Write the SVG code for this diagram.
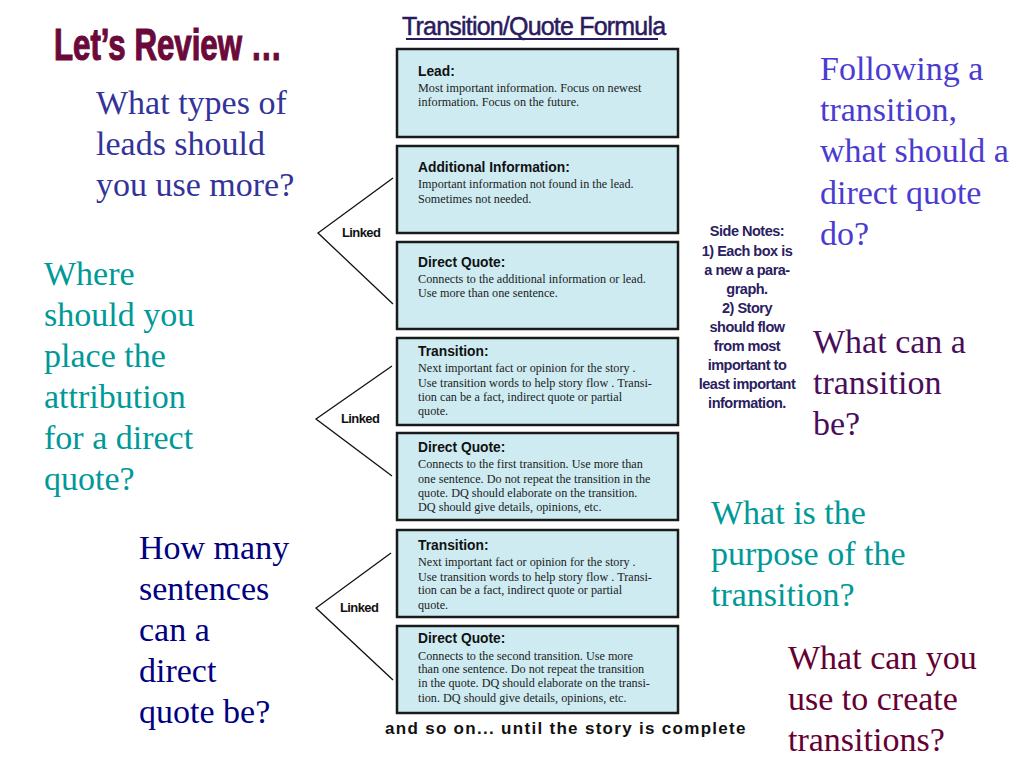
<svg xmlns="http://www.w3.org/2000/svg" width="1024" height="768" viewBox="0 0 1024 768">
<defs>
<style>
.q{font-family:"Liberation Serif","Times New Roman",serif;font-size:34px}
.box{fill:#cdebf1;stroke:#1a1a1a;stroke-width:2.5}
.h{font-family:"Liberation Sans",Arial,sans-serif;font-size:13.8px;font-weight:bold;fill:#111}
.b{font-family:"Liberation Serif","Times New Roman",serif;font-size:12.2px;fill:#222}
.lk{font-family:"Liberation Sans",Arial,sans-serif;font-size:13px;font-weight:bold;fill:#111;letter-spacing:-0.6px}
.con{fill:none;stroke:#111;stroke-width:1.3}
.sn{font-family:"Liberation Sans",Arial,sans-serif;font-size:14.5px;font-weight:bold;fill:#2a2060;letter-spacing:-0.5px;text-anchor:middle}
</style>
</defs>
<rect width="1024" height="768" fill="#ffffff"/>

<g id="title-left">
<text x="54" y="60" transform="translate(54 0) scale(0.71 1) translate(-54 0)" style="font-family:'Liberation Sans',Arial,sans-serif;font-weight:bold;font-size:44px;fill:#6b0a3a;stroke:#6b0a3a;stroke-width:1.2">Let’s Review …</text>
</g>

<g id="title-formula">
<text x="402" y="35" style="font-family:'Liberation Sans',Arial,sans-serif;font-size:25px;fill:#2a1a5e;letter-spacing:-0.8px;stroke:#2a1a5e;stroke-width:0.5">Transition/Quote Formula</text>
<line x1="406" y1="39" x2="658" y2="39" stroke="#2a1a5e" stroke-width="2"/>
</g>

<g id="q1" class="q" fill="#333399">
<text x="96" y="114">What types of</text>
<text x="96" y="155">leads should</text>
<text x="96" y="196">you use more?</text>
</g>
<g id="q2" class="q" fill="#009999">
<text x="44" y="285">Where</text>
<text x="44" y="326">should you</text>
<text x="44" y="367">place the</text>
<text x="44" y="408">attribution</text>
<text x="44" y="449">for a direct</text>
<text x="44" y="490">quote?</text>
</g>
<g id="q3" class="q" fill="#000080">
<text x="139" y="559">How many</text>
<text x="139" y="600">sentences</text>
<text x="139" y="641">can a</text>
<text x="139" y="682">direct</text>
<text x="139" y="723">quote be?</text>
</g>
<g id="q4" class="q" fill="#4b3bd0">
<text x="820" y="80">Following a</text>
<text x="820" y="121">transition,</text>
<text x="820" y="162">what should a</text>
<text x="820" y="204">direct quote</text>
<text x="820" y="245">do?</text>
</g>
<g id="q5" class="q" fill="#4a0d5a">
<text x="813" y="353">What can a</text>
<text x="813" y="394">transition</text>
<text x="813" y="435">be?</text>
</g>
<g id="q6" class="q" fill="#009999">
<text x="711" y="524">What is the</text>
<text x="711" y="565">purpose of the</text>
<text x="711" y="606">transition?</text>
</g>
<g id="q7" class="q" fill="#660033">
<text x="788" y="669">What can you</text>
<text x="788" y="710">use to create</text>
<text x="788" y="751">transitions?</text>
</g>

<g id="connectors">
<polyline class="con" points="393,178 318,233 393,304"/>
<polyline class="con" points="392,366 316,419 392,476"/>
<polyline class="con" points="391,553 316,608 393,680"/>
</g>
<g id="linked-labels">
<text class="lk" x="342" y="237">Linked</text>
<text class="lk" x="341" y="423">Linked</text>
<text class="lk" x="340" y="612">Linked</text>
</g>

<g id="box-lead">
<rect class="box" x="397" y="49" width="281" height="88"/>
<text class="h" x="418" y="76">Lead:</text>
<text class="b" x="418" y="92">Most important information. Focus on newest</text>
<text class="b" x="418" y="106">information. Focus on the future.</text>
</g>
<g id="box-additional">
<rect class="box" x="397" y="146" width="281" height="87"/>
<text class="h" x="418" y="172">Additional Information:</text>
<text class="b" x="418" y="188">Important information not found in the lead.</text>
<text class="b" x="418" y="203">Sometimes not needed.</text>
</g>
<g id="box-quote1">
<rect class="box" x="397" y="242" width="281" height="87"/>
<text class="h" x="418" y="267">Direct Quote:</text>
<text class="b" x="418" y="283">Connects to the additional information or lead.</text>
<text class="b" x="418" y="297">Use more than one sentence.</text>
</g>
<g id="box-transition1">
<rect class="box" x="397" y="338" width="281" height="87"/>
<text class="h" x="418" y="356">Transition:</text>
<text class="b" x="418" y="372">Next important fact or opinion for the story  .</text>
<text class="b" x="418" y="387">Use transition words to help story flow . Transi-</text>
<text class="b" x="418" y="401">tion can be a fact, indirect quote or partial</text>
<text class="b" x="418" y="415">quote.</text>
</g>
<g id="box-quote2">
<rect class="box" x="397" y="433" width="281" height="87"/>
<text class="h" x="418" y="452">Direct Quote:</text>
<text class="b" x="418" y="468">Connects to the first transition. Use more than</text>
<text class="b" x="418" y="483">one sentence. Do not repeat the transition in the</text>
<text class="b" x="418" y="497">quote. DQ should elaborate on the transition.</text>
<text class="b" x="418" y="511">DQ  should give details, opinions, etc.</text>
</g>
<g id="box-transition2">
<rect class="box" x="397" y="530" width="281" height="87"/>
<text class="h" x="418" y="550">Transition:</text>
<text class="b" x="418" y="566">Next important fact or opinion for the story  .</text>
<text class="b" x="418" y="581">Use transition words to help story flow . Transi-</text>
<text class="b" x="418" y="594">tion can be a fact, indirect quote or partial</text>
<text class="b" x="418" y="609">quote.</text>
</g>
<g id="box-quote3">
<rect class="box" x="397" y="626" width="281" height="87"/>
<text class="h" x="418" y="643">Direct Quote:</text>
<text class="b" x="418" y="660">Connects to the second transition. Use more</text>
<text class="b" x="418" y="673">than one sentence. Do not repeat the transition</text>
<text class="b" x="418" y="687">in the quote. DQ should elaborate on the   transi-</text>
<text class="b" x="418" y="702">tion. DQ should give details, opinions, etc.</text>
</g>

<g id="footer">
<text x="385" y="734" style="font-family:'Liberation Sans',Arial,sans-serif;font-size:17px;font-weight:bold;fill:#111;letter-spacing:1.3px">and so on... until the story is complete</text>
</g>

<g id="side-notes">
<text class="sn" x="747" y="236">Side Notes:</text>
<text class="sn" x="747" y="256">1) Each box is</text>
<text class="sn" x="747" y="275">a new a para-</text>
<text class="sn" x="747" y="294">graph.</text>
<text class="sn" x="747" y="313">2) Story</text>
<text class="sn" x="747" y="332">should flow</text>
<text class="sn" x="747" y="351">from most</text>
<text class="sn" x="747" y="370">important to</text>
<text class="sn" x="747" y="389">least important</text>
<text class="sn" x="747" y="408">information.</text>
</g>
</svg>
